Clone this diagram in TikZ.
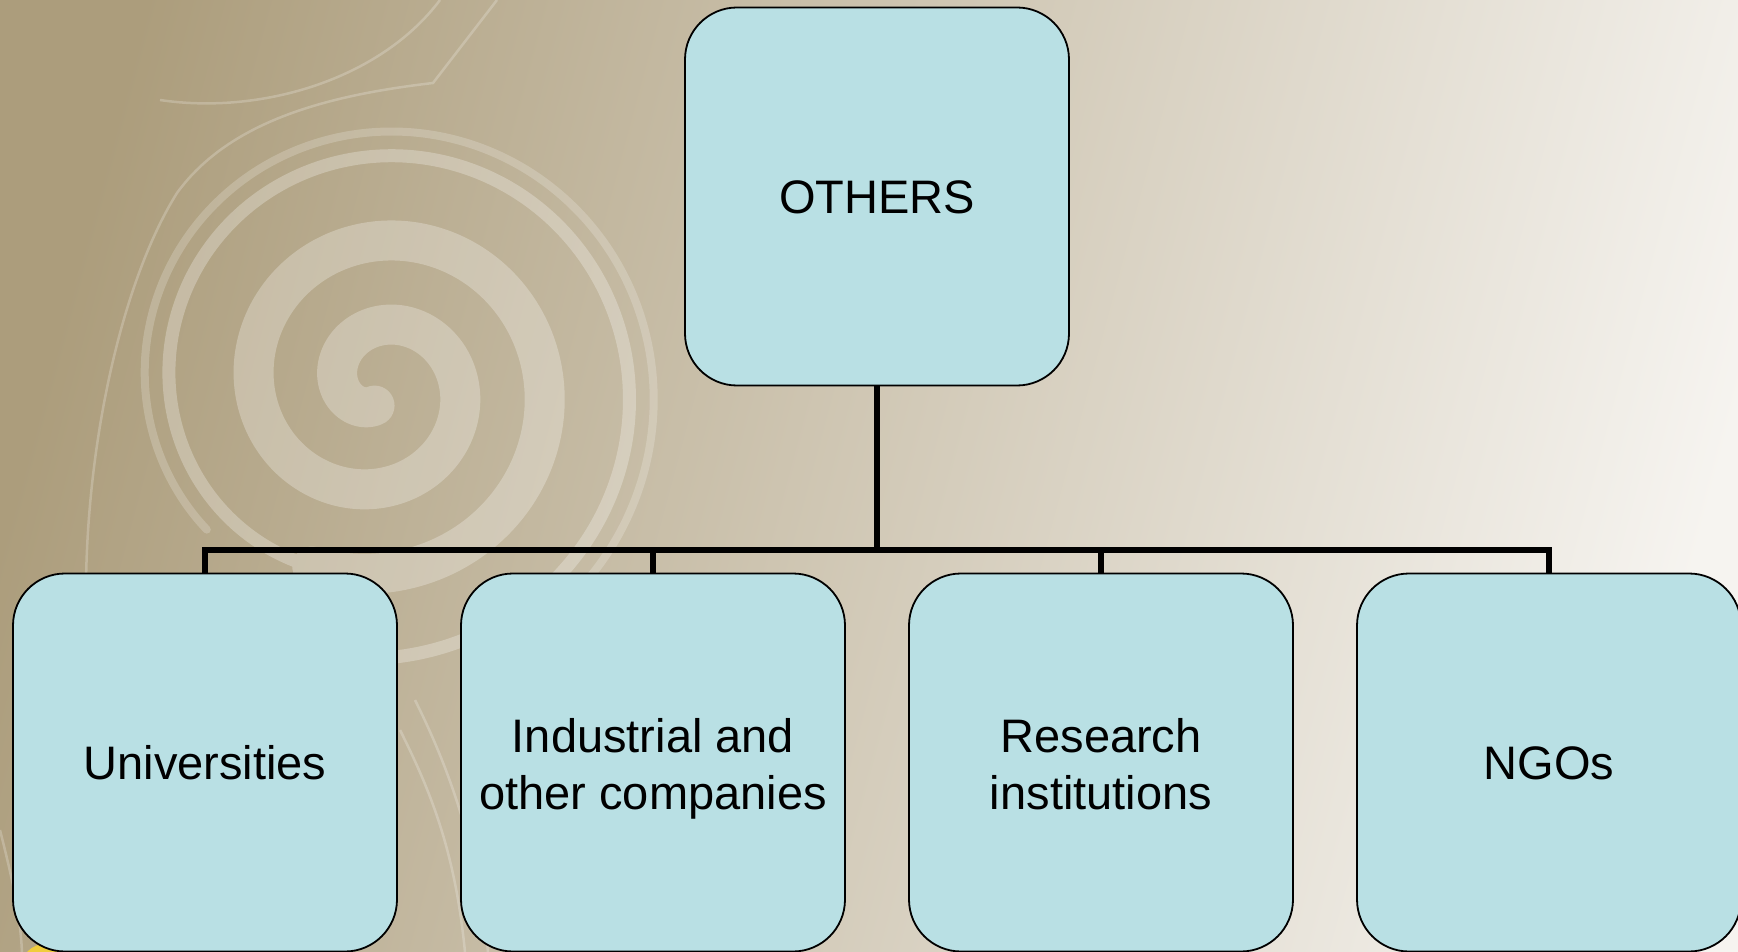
\documentclass[tikz,border=0pt]{standalone}
\usepackage{fontspec}
\setmainfont{Liberation Sans}
\definecolor{boxfill}{RGB}{185,224,228}
\definecolor{bgL}{RGB}{172,157,124}
\definecolor{bgM}{RGB}{214,206,188}
\definecolor{bgR}{RGB}{246,244,240}
\definecolor{blob}{RGB}{240,205,60}
\begin{document}
\begin{tikzpicture}[x=1pt,y=-1pt,
  box/.style={draw=black, line width=1.8pt, fill=boxfill, rounded corners=52pt,
    minimum width=384pt, minimum height=378pt, inner sep=0pt, align=center,
    font=\fontsize{47}{57}\selectfont},
  oneline/.style={text height=34pt, text depth=0pt},
  twoline/.style={text height=93pt, text depth=0pt},
  conn/.style={draw=black, line width=5.5pt, line join=miter},
  swirl/.style={draw=white, line cap=round, line join=round},
  faint/.style={draw=white, draw opacity=0.22, line width=2.5pt}]
\useasboundingbox (0,0) rectangle (1738,952);
\begin{scope}
  \clip (0,0) rectangle (1738,952);
  \shade[left color=bgL, middle color=bgM, right color=bgR, shading angle=75]
    (-40,-40) rectangle (1778,992);
  % spiral decoration
  \begin{scope}[transparency group, opacity=0.27]
  \draw[swirl, line width=40pt] plot[domain=100:830, samples=240, smooth, variable=\a]
    ({378+(38.75+0.236*(\a-180))*cos(\a)}, {386+(38.75+0.236*(\a-180))*sin(\a)});
  \draw[swirl, line width=13pt] plot[domain=820:1170, samples=120, smooth, variable=\a]
    ({378+(38.75+0.236*(\a-180))*cos(\a)}, {386+(38.75+0.236*(\a-180))*sin(\a)});
  \end{scope}
  \draw[swirl, line width=8pt, draw opacity=0.2] plot[domain=860:1150, samples=100, smooth, variable=\a]
    ({378+(63+0.236*(\a-180))*cos(\a)}, {386+(63+0.236*(\a-180))*sin(\a)});
  \draw[faint] (92,700) .. controls (70,520) and (110,300) .. (177,193)
    .. controls (230,120) and (330,95) .. (433,83) -- (497,0);
  \draw[faint] (160,100) .. controls (260,115) and (380,80) .. (440,0);
  \draw[faint] (400,730) .. controls (430,790) and (455,850) .. (465,952);
  \draw[faint] (415,700) .. controls (450,770) and (478,850) .. (488,952);
  \draw[faint] (0,830) .. controls (10,870) and (20,910) .. (22,952);
  \fill[blob] (45,968) circle (24);
\end{scope}
% boxes
\node[box, oneline] (top) at (877,196.5) {OTHERS};
\node[box, oneline] (uni) at (205,762.5) {Universities};
\node[box, twoline] (ind) at (653,762.5) {Industrial and\\other companies};
\node[box, twoline] (res) at (1101,762.5) {Research\\institutions};
\node[box, oneline] (ngo) at (1549,762.5) {NGOs};
% connectors
\coordinate (bar) at (877,550);
\draw[conn] (top.south) -- (top.south |- bar);
\draw[conn] (uni.north) |- (ngo.north |- bar) -- (ngo.north);
\draw[conn] (ind.north) -- (ind.north |- bar);
\draw[conn] (res.north) -- (res.north |- bar);
\end{tikzpicture}
\end{document}
